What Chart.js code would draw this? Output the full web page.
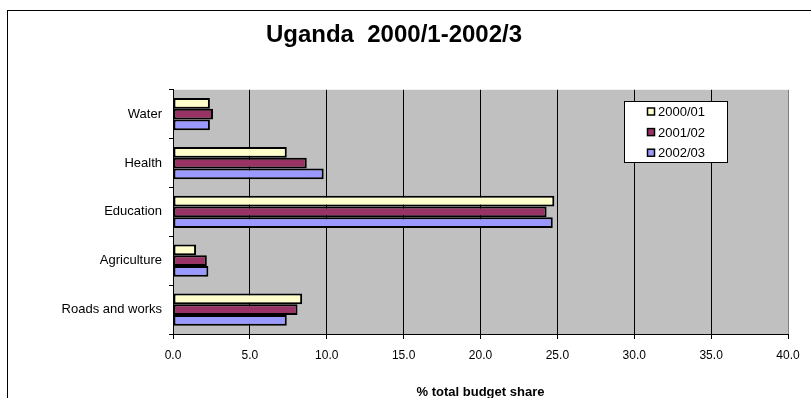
<!DOCTYPE html>
<html>
<head>
<meta charset="utf-8">
<title>Uganda 2000/1-2002/3</title>
<script src="https://cdn.jsdelivr.net/npm/chart.js@4"></script>
<style>
  html, body { margin: 0; padding: 0; background: #fff; }
  #wrap { position: relative; width: 811px; height: 398px; }
</style>
</head>
<body>
<div id="wrap"><canvas id="budgetChart" width="811" height="398"></canvas></div>
<script>
// sectors, top to bottom
const sectors = ["Water", "Health", "Education", "Agriculture", "Roads and works"];
const years = ["2000/01", "2001/02", "2002/03"];
const share0001 = [2.4, 7.4, 24.8, 1.5, 8.4];
const share0102 = [2.6, 8.7, 24.3, 2.2, 8.1];
const share0203 = [2.4, 9.8, 24.7, 2.3, 7.4];
const fills = ["#FFFFCC", "#993366", "#9999FF"];

const FONT = "'Liberation Sans', Arial, sans-serif";

// white page, outer frame and grey plot background
const framePlugin = {
  id: "frame",
  beforeDraw(chart) {
    const ctx = chart.ctx;
    const a = chart.chartArea;
    ctx.save();
    ctx.fillStyle = "#fff";
    ctx.fillRect(0, 0, chart.width, chart.height);
    ctx.strokeStyle = "#000";
    ctx.lineWidth = 1;
    ctx.strokeRect(7.5, 10.5, chart.width + 20, chart.height + 20);
    ctx.fillStyle = "#C0C0C0";
    ctx.fillRect(a.left, a.top, a.right - a.left, a.bottom - a.top);
    ctx.restore();
  }
};

// boxed legend sitting inside the plot, top right
const boxLegend = {
  id: "boxLegend",
  afterDraw(chart) {
    const ctx = chart.ctx;
    const x = 624, y = 101, w = 103, h = 61;
    ctx.save();
    ctx.fillStyle = "#fff";
    ctx.fillRect(x, y, w, h);
    ctx.strokeStyle = "#000";
    ctx.lineWidth = 1;
    ctx.strokeRect(x + 0.5, y + 0.5, w, h);
    ctx.font = "13px " + FONT;
    ctx.textBaseline = "middle";
    chart.data.datasets.forEach((ds, i) => {
      const cy = y + 10.5 + i * 20.6;
      ctx.fillStyle = ds.backgroundColor;
      ctx.fillRect(648, cy - 3, 6, 6);
      ctx.lineWidth = 1.5;
      ctx.strokeRect(647.5, cy - 3.5, 7, 7);
      ctx.fillStyle = "#000";
      ctx.fillText(ds.label, 658, cy + 1);
    });
    ctx.restore();
  }
};

new Chart(document.getElementById("budgetChart"), {
  type: "bar",
  data: {
    labels: sectors,
    datasets: [
      { label: years[0], data: share0001, backgroundColor: fills[0] },
      { label: years[1], data: share0102, backgroundColor: fills[1] },
      { label: years[2], data: share0203, backgroundColor: fills[2] }
    ].map(d => Object.assign(d, {
      borderColor: "#000",
      borderWidth: 2,
      borderSkipped: false,
      categoryPercentage: 0.66,
      barPercentage: 1
    }))
  },
  options: {
    indexAxis: "y",
    responsive: false,
    animation: false,
    layout: { padding: { left: 0, right: 23, top: 0, bottom: 0 } },
    plugins: {
      legend: { display: false },
      tooltip: { enabled: false },
      title: {
        display: true,
        text: "Uganda  2000/1-2002/3",
        color: "#000",
        font: { family: FONT, size: 24, weight: "bold" },
        padding: { top: 21, bottom: 40 }
      }
    },
    scales: {
      x: {
        min: 0,
        max: 40,
        ticks: {
          stepSize: 5,
          color: "#000",
          font: { family: FONT, size: 12 },
          padding: 9,
          maxRotation: 0,
          callback: v => v.toFixed(1)
        },
        grid: {
          color: c => (c.tick && c.tick.value === 40 ? "#808080" : "#000"),
          lineWidth: 1,
          tickLength: 5,
          tickColor: "#000"
        },
        border: { color: "#000", width: 1 },
        title: {
          display: true,
          text: "% total budget share",
          color: "#000",
          font: { family: FONT, size: 13, weight: "bold" },
          padding: { top: 0, bottom: -2 }
        },
        afterFit: s => { s.height = 64; }
      },
      y: {
        ticks: { color: "#000", font: { family: FONT, size: 13 }, padding: 7 },
        grid: { offset: true, drawOnChartArea: false, tickLength: 4, tickColor: "#000" },
        border: { color: "#000", width: 1 },
        afterFit: s => { s.width = 173; }
      }
    }
  },
  plugins: [framePlugin, boxLegend]
});
</script>
</body>
</html>
